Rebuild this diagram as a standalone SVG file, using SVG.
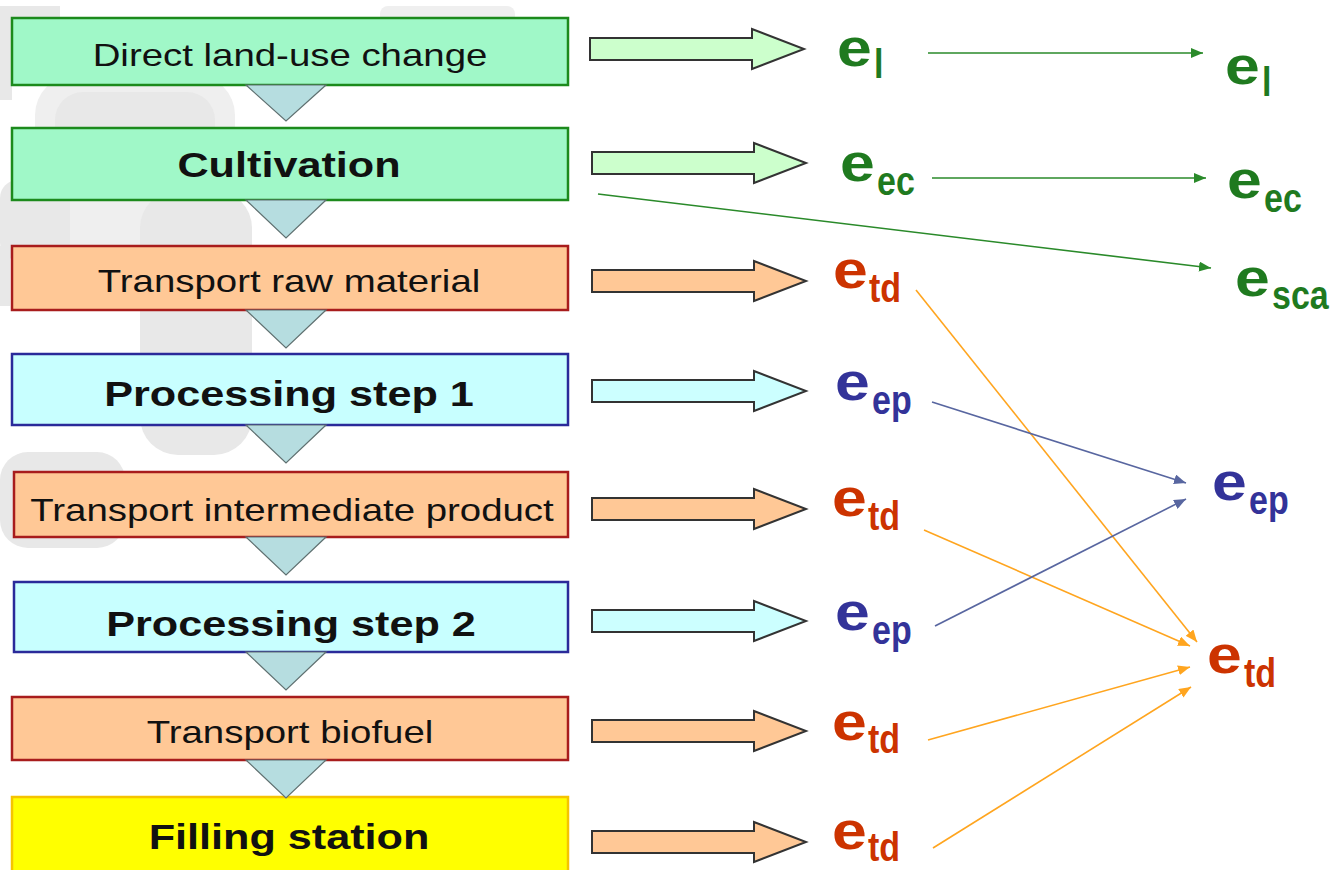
<svg xmlns="http://www.w3.org/2000/svg" width="1334" height="870" viewBox="0 0 1334 870">
<style>
.box{stroke-width:2.5}
.g{fill:#a0f8c8;stroke:#1c8a1c}
.o{fill:#ffc896;stroke:#a81c1c}
.c{fill:#c8ffff;stroke:#2a2a9a}
.y{fill:#ffff00;stroke:#f5c400}
.tri{fill:#b6dde0;stroke:#5f7070;stroke-width:1.2}
.bt{font-family:"Liberation Sans",Arial,sans-serif;fill:#111;text-anchor:middle}
.reg{font-size:32px}
.bold{font-size:36px;font-weight:bold}
.ba{stroke:#333;stroke-width:2}
.bag{fill:#ccffcc}
.bao{fill:#ffc896}
.bac{fill:#ccffff}
.lab{font-family:"Liberation Sans",Arial,sans-serif;font-weight:bold;font-size:52px}
.sub{font-family:"Liberation Sans",Arial,sans-serif;font-weight:bold;font-size:40px}
.lg{fill:#1f7a1f}
.lr{fill:#cc3300}
.lb{fill:#333399}
.con{fill:none;stroke-width:1.6}
.cg{stroke:#2a8a2a}
.co{stroke:#ffa51f}
.cb{stroke:#5866a0}
.bg1{fill:#e8e8e8}
.bg2{fill:#efefef}
</style>
<defs>
<path id="barrow" d="M0,-11 H162 V-20 L214,0 L162,20 V11 H0 Z"/>
<marker id="mg" markerUnits="userSpaceOnUse" markerWidth="13" markerHeight="10" refX="12" refY="5" orient="auto"><path d="M0,0 L12,5 L0,10 Z" fill="#2a8a2a"/></marker>
<marker id="mo" markerUnits="userSpaceOnUse" markerWidth="13" markerHeight="10" refX="12" refY="5" orient="auto"><path d="M0,0 L12,5 L0,10 Z" fill="#ffa51f"/></marker>
<marker id="mb" markerUnits="userSpaceOnUse" markerWidth="13" markerHeight="10" refX="12" refY="5" orient="auto"><path d="M0,0 L12,5 L0,10 Z" fill="#5866a0"/></marker>
</defs>
<rect width="1334" height="870" fill="#ffffff"/>
<g id="background">
<rect class="bg1" x="0" y="6" width="60" height="14"/>
<rect class="bg2" x="380" y="6" width="135" height="20" rx="8"/>
<rect class="bg1" x="0" y="20" width="12" height="80"/>
<rect class="bg2" x="35" y="75" width="200" height="200" rx="40"/>
<rect class="bg1" x="55" y="92" width="160" height="70" rx="28"/>
<rect class="bg1" x="0" y="180" width="70" height="80" rx="18"/>
<rect class="bg1" x="140" y="190" width="112" height="265" rx="38"/>
<rect class="bg1" x="0" y="246" width="10" height="60"/>
<rect class="bg1" x="0" y="452" width="125" height="96" rx="28"/>
</g>
<g id="n1"><rect class="box g" x="12" y="18" width="556" height="67"/><text class="bt reg" transform="translate(290,66) scale(1.2,1)">Direct land-use change</text></g>
<g id="n2"><rect class="box g" x="12" y="128" width="556" height="72"/><text class="bt bold" transform="translate(289,177) scale(1.2,1)">Cultivation</text></g>
<g id="n3"><rect class="box o" x="12" y="246" width="556" height="64"/><text class="bt reg" transform="translate(289,292) scale(1.2,1)">Transport raw material</text></g>
<g id="n4"><rect class="box c" x="12" y="354" width="556" height="71"/><text class="bt bold" transform="translate(289,406) scale(1.2,1)">Processing step 1</text></g>
<g id="n5"><rect class="box o" x="14" y="472" width="554" height="65"/><text class="bt reg" transform="translate(292,521) scale(1.2,1)">Transport intermediate product</text></g>
<g id="n6"><rect class="box c" x="14" y="582" width="554" height="70"/><text class="bt bold" transform="translate(291,636) scale(1.2,1)">Processing step 2</text></g>
<g id="n7"><rect class="box o" x="12" y="697" width="556" height="63"/><text class="bt reg" transform="translate(290,743) scale(1.2,1)">Transport biofuel</text></g>
<g id="n8"><rect class="box y" x="12" y="797" width="556" height="85"/><text class="bt bold" transform="translate(289,849) scale(1.2,1)">Filling station</text></g>
<g id="flow-triangles">
<polygon class="tri" points="246,85 326,85 286,121"/>
<polygon class="tri" points="246,200 326,200 286,238"/>
<polygon class="tri" points="246,310 326,310 286,348"/>
<polygon class="tri" points="246,425 326,425 286,463"/>
<polygon class="tri" points="246,537 326,537 286,575"/>
<polygon class="tri" points="246,652 326,652 286,690"/>
<polygon class="tri" points="246,760 326,760 286,798"/>
</g>
<g id="block-arrows">
<use href="#barrow" class="ba bag" x="590" y="49"/>
<use href="#barrow" class="ba bag" x="592" y="163"/>
<use href="#barrow" class="ba bao" x="592" y="281"/>
<use href="#barrow" class="ba bac" x="592" y="391"/>
<use href="#barrow" class="ba bao" x="592" y="509"/>
<use href="#barrow" class="ba bac" x="592" y="621"/>
<use href="#barrow" class="ba bao" x="592" y="731"/>
<use href="#barrow" class="ba bao" x="592" y="842"/>
</g>
<g id="labels-left">
<g id="l1"><text class="lab lg" transform="translate(837,66) scale(1.2,1)">e</text><text class="sub lg" transform="translate(874,78) scale(0.85,1)">l</text></g>
<g id="l2"><text class="lab lg" transform="translate(840,181) scale(1.2,1)">e</text><text class="sub lg" transform="translate(877,195) scale(0.85,1)">ec</text></g>
<g id="l3"><text class="lab lr" transform="translate(833,288) scale(1.2,1)">e</text><text class="sub lr" transform="translate(869,302) scale(0.85,1)">td</text></g>
<g id="l4"><text class="lab lb" transform="translate(835,400) scale(1.2,1)">e</text><text class="sub lb" transform="translate(872,414) scale(0.85,1)">ep</text></g>
<g id="l5"><text class="lab lr" transform="translate(832,516) scale(1.2,1)">e</text><text class="sub lr" transform="translate(868,530) scale(0.85,1)">td</text></g>
<g id="l6"><text class="lab lb" transform="translate(835,630) scale(1.2,1)">e</text><text class="sub lb" transform="translate(872,644) scale(0.85,1)">ep</text></g>
<g id="l7"><text class="lab lr" transform="translate(832,740) scale(1.2,1)">e</text><text class="sub lr" transform="translate(868,753) scale(0.85,1)">td</text></g>
<g id="l8"><text class="lab lr" transform="translate(832,849) scale(1.2,1)">e</text><text class="sub lr" transform="translate(868,861) scale(0.85,1)">td</text></g>
</g>
<g id="labels-right">
<g id="r1"><text class="lab lg" transform="translate(1225,84) scale(1.2,1)">e</text><text class="sub lg" transform="translate(1262,96) scale(0.85,1)">l</text></g>
<g id="r2"><text class="lab lg" transform="translate(1227,198) scale(1.2,1)">e</text><text class="sub lg" transform="translate(1264,212) scale(0.85,1)">ec</text></g>
<g id="r3"><text class="lab lg" transform="translate(1235,296) scale(1.2,1)">e</text><text class="sub lg" transform="translate(1272,309) scale(0.85,1)">sca</text></g>
<g id="r4"><text class="lab lb" transform="translate(1212,500) scale(1.2,1)">e</text><text class="sub lb" transform="translate(1249,514) scale(0.85,1)">ep</text></g>
<g id="r5"><text class="lab lr" transform="translate(1207,673) scale(1.2,1)">e</text><text class="sub lr" transform="translate(1244,687) scale(0.85,1)">td</text></g>
</g>
<g id="connectors">
<line class="con cg" x1="928" y1="53" x2="1203" y2="53" marker-end="url(#mg)"/>
<line class="con cg" x1="932" y1="178" x2="1206" y2="178" marker-end="url(#mg)"/>
<line class="con cg" x1="598" y1="194" x2="1211" y2="268" marker-end="url(#mg)"/>
<line class="con co" x1="916" y1="290" x2="1197" y2="642" marker-end="url(#mo)"/>
<line class="con co" x1="924" y1="530" x2="1190" y2="646" marker-end="url(#mo)"/>
<line class="con co" x1="928" y1="740" x2="1190" y2="667" marker-end="url(#mo)"/>
<line class="con co" x1="933" y1="848" x2="1191" y2="687" marker-end="url(#mo)"/>
<line class="con cb" x1="932" y1="402" x2="1186" y2="483" marker-end="url(#mb)"/>
<line class="con cb" x1="935" y1="626" x2="1186" y2="499" marker-end="url(#mb)"/>
</g>
</svg>
